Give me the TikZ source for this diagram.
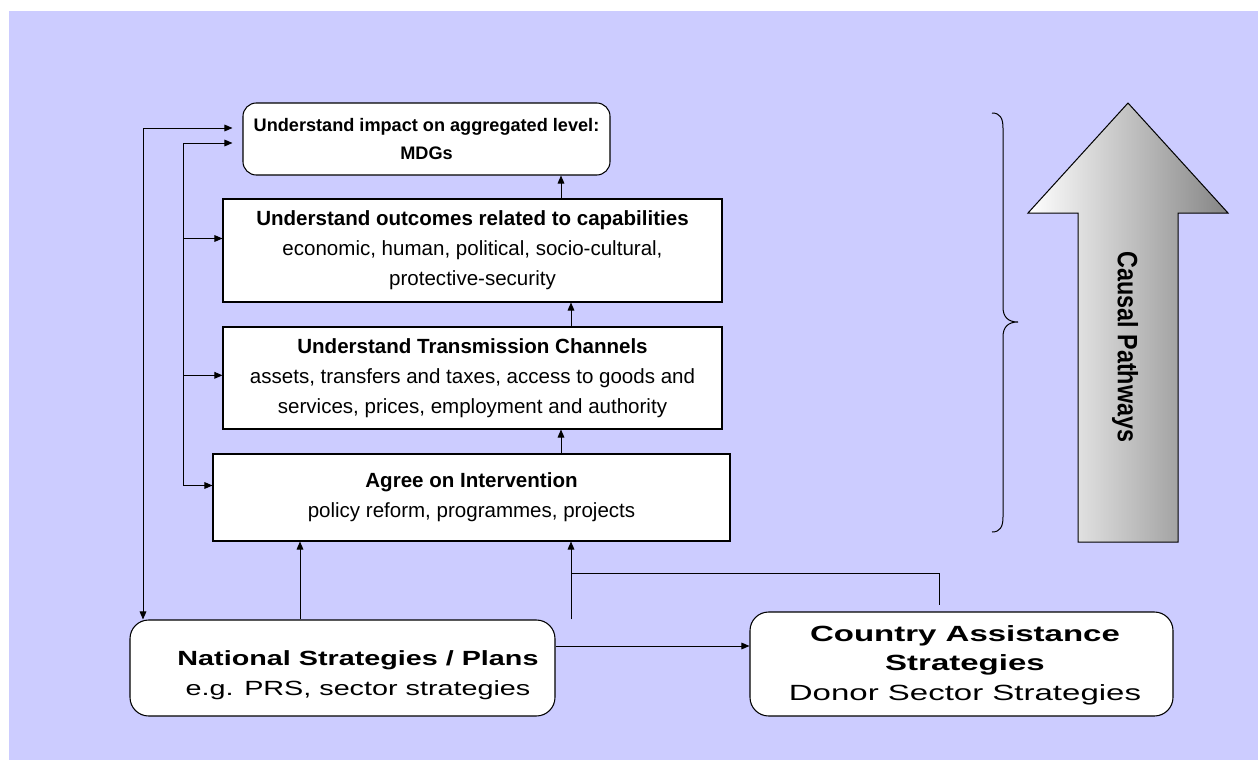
\documentclass[tikz,border=0pt]{standalone}
\usepackage{fontspec}
\setmainfont{Liberation Sans}
\usetikzlibrary{arrows.meta,calc}
\definecolor{bgcol}{HTML}{CCCCFF}
\newcommand{\widetext}[2]{\scalebox{#1}[1]{\begin{tabular}{@{}c@{}}#2\end{tabular}}}
\begin{document}
\begin{tikzpicture}[x=0.75pt,y=-0.75pt,
  every node/.style={font=\fontsize{15.4}{22.5}\selectfont},
  sqbox/.style={draw=black,line width=0.8pt,fill=white,inner sep=0pt,align=center},
  rbox/.style={sqbox,rounded corners=12pt},
  lbl/.style={inner sep=0pt,align=center},
  arr/.style={line width=0.75pt,-{Triangle[length=6pt,width=5pt]}},
  darr/.style={line width=0.75pt,{Triangle[length=6pt,width=5pt]}-{Triangle[length=6pt,width=5pt]}},
  ln/.style={line width=0.75pt}]
\useasboundingbox (0,0) rectangle (1258,760);
\fill[bgcol] (9,11) rectangle (1258,760);

% boxes
\node[rbox,rounded corners=10pt,minimum width=275.25pt,minimum height=54pt,
  font=\fontsize{13.6}{21.5}\selectfont\bfseries] (b1) at (426.5,139)
  {Understand impact on aggregated level:\\ MDGs};
\node[sqbox,minimum width=374.25pt,minimum height=77.25pt] (b2) at (472.5,250.5)
  {\bfseries Understand outcomes related to capabilities\\ economic, human, political, socio-cultural,\\ protective-security};
\node[sqbox,minimum width=374.25pt,minimum height=76.5pt] (b3) at (472.5,378)
  {\bfseries Understand Transmission Channels\\ assets, transfers and taxes, access to goods and\\ services, prices, employment and authority};
\node[sqbox,minimum width=387.75pt,minimum height=65.25pt] (b4) at (471.5,497.5)
  {\bfseries Agree on Intervention\\ policy reform, programmes, projects};
\node[rbox,rounded corners=14pt,minimum width=318.75pt,minimum height=72pt] (b5) at (342.5,668) {};
\node[lbl] (b5t) at (358,674)
  {\widetext{1.4}{\textbf{National Strategies / Plans}\\ e.g. PRS, sector strategies}};
\node[rbox,rounded corners=14pt,minimum width=317.25pt,minimum height=78pt] (b6) at (961.5,664) {};
\node[lbl,font=\fontsize{16.5}{22.2}\selectfont] (b6t) at (965,665)
  {\widetext{1.5}{\textbf{Country Assistance}\\ \textbf{Strategies}\\ Donor Sector Strategies}};

% helper coordinates
\coordinate (xo) at (143,0);
\coordinate (xi) at (183,0);
\coordinate (xa) at (561,0);
\coordinate (xb) at (571,0);
\coordinate (xl) at (300,0);
\coordinate (xc) at (939,0);
\coordinate (join) at (571,573);

% left feedback lines
\draw[darr] (b5.north -| xo) |- ([yshift=8.25pt,xshift=-7.5pt]b1.west);
\draw[arr] ([yshift=9pt]b4.west -| xi) |- ([yshift=-3pt,xshift=-7.5pt]b1.west);
\draw[arr] ([yshift=9pt]b2.west -| xi) -- ([yshift=9pt]b2.west);
\draw[arr] ([yshift=2pt]b3.west -| xi) -- ([yshift=2pt]b3.west);
\draw[arr] ([yshift=9pt]b4.west -| xi) -- ([yshift=9pt]b4.west);

% vertical flow
\draw[arr] (b2.north -| xa) -- (b1.south -| xa);
\draw[arr] (b3.north -| xb) -- (b2.south -| xb);
\draw[arr] (b4.north -| xa) -- (b3.south -| xa);
\draw[arr] (b5.north -| xl) -- (b4.south -| xl);
\draw[arr] (b5.north -| xb) -- (b4.south -| xb);
\draw[ln] ([yshift=5pt]b6.north -| xc) |- (join);
\draw[arr] ([yshift=16.5pt]b5.east) -- ([yshift=16.5pt]b5.east -| b6.west);

% brace
\draw[line width=0.75pt] (992,113) .. controls (1000,113) and (1003,118) .. (1003,128) -- (1003,307)
  .. controls (1003,317) and (1008,322) .. (1018,322)
  .. controls (1008,322) and (1003,327) .. (1003,337) -- (1003,517)
  .. controls (1003,527) and (1000,532) .. (992,532);

% big arrow
\shade[left color=white,right color=black!48,draw=black,line width=0.75pt]
  (1078,542) -- (1078,213) -- (1028,213) -- (1128,103) -- (1228,213) -- (1178,213) -- (1178,542) -- cycle;
\node[rotate=-90,font=\fontsize{17.5}{20}\selectfont\bfseries] (cp) at (1125,347)
  {\scalebox{1}[1.2]{Causal Pathways}};
\end{tikzpicture}
\end{document}
